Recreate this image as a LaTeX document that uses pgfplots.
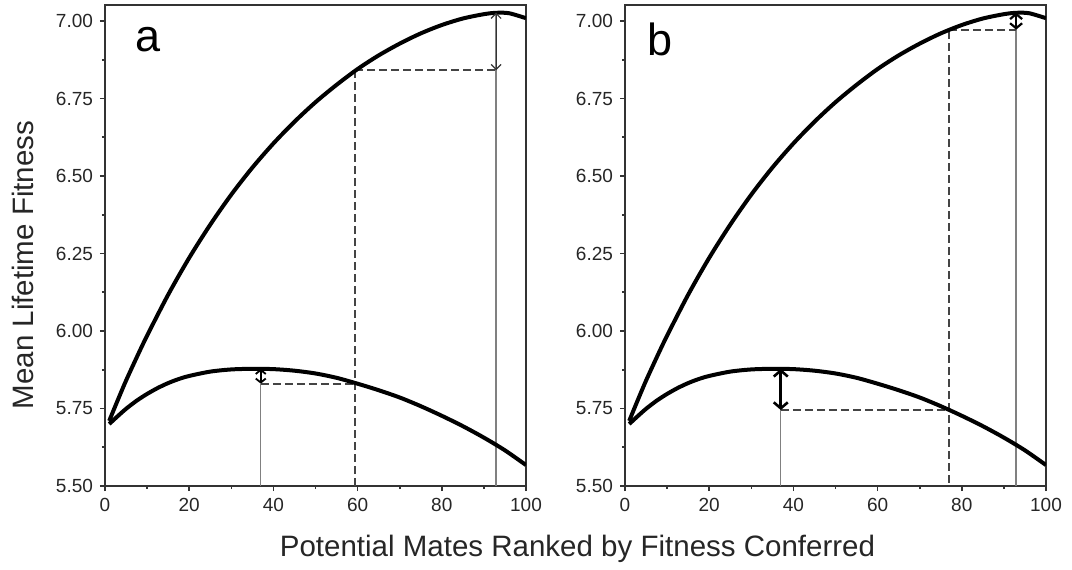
\documentclass[border=0pt]{standalone}
\usepackage{pgfplots}
\usepackage{pgfplotstable}
\pgfplotsset{compat=1.18}
\usepackage{fontspec}
\setmainfont{Liberation Sans}
\usetikzlibrary{arrows.meta}

\definecolor{axgray}{HTML}{333333}
\definecolor{thingray}{HTML}{808080}
\definecolor{dashgray}{HTML}{444444}

\pgfplotstableread{
x y
1 5.710
3 5.776
5 5.840
7.5 5.914
10 5.985
15 6.117
20 6.236
25 6.343
30 6.440
35 6.527
40 6.605
45 6.675
50 6.738
55 6.794
60 6.845
65 6.889
70 6.927
75 6.960
80 6.987
85 7.008
90 7.022
93 7.0265
96 7.025
100 7.009
}\uppercurve

\pgfplotstableread{
x y
1 5.700
3 5.725
5 5.749
7.5 5.775
10 5.797
12.5 5.816
15 5.832
17.5 5.845
20 5.855
25 5.869
30 5.876
35 5.878
40 5.877
45 5.872
50 5.863
55 5.849
60 5.830
65 5.809
70 5.7855
75 5.7575
80 5.7265
85 5.693
90 5.656
95 5.615
100 5.5675
}\lowercurve

\pgfplotsset{
  panel/.style={
    scale only axis, width=210.5pt, height=240.5pt,
    xmin=0, xmax=100, ymin=5.5, ymax=7.0516,
    xtick={0,20,40,60,80,100},
    ytick={5.5,5.75,6,6.25,6.5,6.75,7},
    minor x tick num=1, minor y tick num=1,
    tick pos=left, tick align=outside,
    major tick length=2.5pt, minor tick length=1.5pt,
    axis line style={axgray, line width=1pt},
    every tick/.style={axgray, line width=0.8pt},
    tick label style={font=\fontsize{9.5}{11}\selectfont, text=black!85},
    yticklabel style={/pgf/number format/.cd, fixed, fixed zerofill, precision=2},
    /pgf/number format/assume math mode=true,
  },
  curve/.style={black, line width=2pt, smooth, no markers},
  thinline/.style={thingray, line width=0.7pt, no markers},
  dashline/.style={dashgray, line width=1pt, dash pattern=on 4pt off 2pt, no markers},
}

\begin{document}
\begin{tikzpicture}
\useasboundingbox (-52.5pt,-41.5pt) rectangle (483.5pt,243pt);

% Panel a
\begin{axis}[panel, at={(0pt,0pt)}, anchor=south west]
  \addplot[thinline] coordinates {(92.9,5.5) (92.9,7.027)};
  \addplot[thinline] coordinates {(37,5.5) (37,5.83)};
  \addplot[dashline] coordinates {(59.5,5.5) (59.5,6.841)};
  \addplot[dashline] coordinates {(59.5,6.841) (92.9,6.841)};
  \addplot[dashline] coordinates {(37,5.83) (59.5,5.83)};
  \addplot[curve] table[x=x,y=y] {\uppercurve};
  \addplot[curve] table[x=x,y=y] {\lowercurve};
  \addplot[axgray, line width=0.6pt, no markers,
    {Straight Barb[length=2.5pt,width=5pt]}-{Straight Barb[length=2.5pt,width=5pt]}]
    coordinates {(92.9,6.841) (92.9,7.027)};
  \addplot[black, line width=0.9pt, no markers,
    {Straight Barb[length=2pt,width=5pt]}-{Straight Barb[length=2pt,width=5pt]}]
    coordinates {(37,5.83) (37,5.878)};
  \node[anchor=base west, font=\fontsize{22.5}{24}\selectfont, inner sep=0pt] at (axis cs:7.1,6.901) {a};
\end{axis}

% Panel b
\begin{axis}[panel, at={(260pt,0pt)}, anchor=south west]
  \addplot[thinline] coordinates {(92.9,5.5) (92.9,7.027)};
  \addplot[thinline] coordinates {(37,5.5) (37,5.745)};
  \addplot[dashline] coordinates {(77,5.51) (77,6.972)};
  \addplot[dashline] coordinates {(77,6.972) (92.9,6.972)};
  \addplot[dashline] coordinates {(37,5.745) (77,5.745)};
  \addplot[curve] table[x=x,y=y] {\uppercurve};
  \addplot[curve] table[x=x,y=y] {\lowercurve};
  \addplot[black, line width=1.1pt, no markers,
    {Straight Barb[length=2.5pt,width=6pt]}-{Straight Barb[length=2.5pt,width=6pt]}]
    coordinates {(92.9,6.972) (92.9,7.027)};
  \addplot[black, line width=1.3pt, no markers,
    {Straight Barb[length=3pt,width=7pt]}-{Straight Barb[length=3pt,width=7pt]}]
    coordinates {(37,5.745) (37,5.878)};
  \node[anchor=base west, font=\fontsize{22.5}{24}\selectfont, inner sep=0pt] at (axis cs:5.3,6.89) {b};
\end{axis}

\node[rotate=90, anchor=center, font=\fontsize{14.75}{16}\selectfont, text=black!85] at (-41.25pt,110.5pt) {Mean Lifetime Fitness};
\node[anchor=base, font=\fontsize{14.75}{16}\selectfont, text=black!85] at (236.25pt,-35pt) {Potential Mates Ranked by Fitness Conferred};
\end{tikzpicture}
\end{document}
